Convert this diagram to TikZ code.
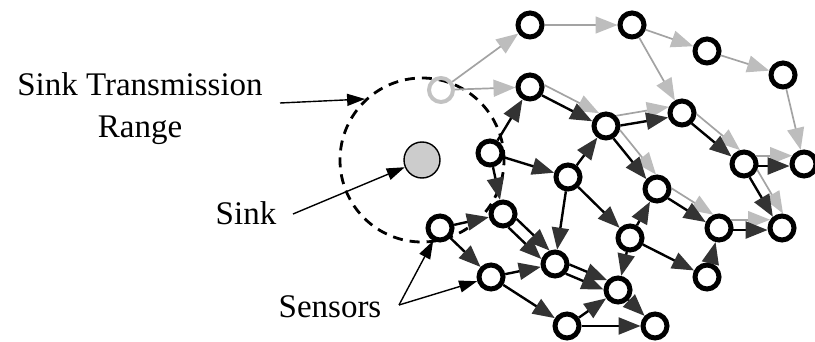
\documentclass[tikz,border=0pt]{standalone}
\usepackage{fontspec}
\setmainfont{Liberation Serif}
\usetikzlibrary{arrows.meta}
\definecolor{tipdark}{gray}{0.2}
\definecolor{linegrey}{gray}{0.64}
\definecolor{tiplight}{gray}{0.74}
\definecolor{ghostgrey}{gray}{0.76}
\definecolor{sinkfill}{gray}{0.8}
\begin{document}
\begin{tikzpicture}[x=1pt,y=-1pt,
  sensor/.style={circle,draw=black,fill=white,line width=5pt,minimum size=24pt,inner sep=0pt},
  ghost/.style={circle,draw=ghostgrey,line width=4pt,minimum size=24pt,inner sep=0pt},
  sinknode/.style={circle,draw=black,fill=sinkfill,line width=1.4pt,minimum size=36pt,inner sep=0pt},
  rangering/.style={circle,draw=black,line width=2.8pt,dash pattern=on 10pt off 7pt,minimum size=164pt,inner sep=0pt},
  tree/.style={draw=black,line width=2.4pt,-{Triangle[length=22pt,width=17pt,color=tipdark]}},
  alt/.style={draw=linegrey,line width=1.7pt,-{Triangle[length=22pt,width=17pt,color=tiplight]}},
  callout/.style={draw=black,line width=1.4pt,-{Triangle[length=18pt,width=12pt]}},
  labeltext/.style={font=\fontsize{33}{42}\selectfont,inner sep=0pt}
]
\useasboundingbox (0,0) rectangle (815,342);

% sink and its transmission range
\node[rangering] (range) at (422,160) {};
\node[sinknode] (sink) at (422,160) {};

% sensors
\node[ghost]  (A) at (441,90) {};
\node[sensor] (B) at (530,25) {};
\node[sensor] (C) at (632,25) {};
\node[sensor] (D) at (707,51) {};
\node[sensor] (E) at (783,75) {};
\node[sensor] (F) at (530,87) {};
\node[sensor] (G) at (606,126) {};
\node[sensor] (H) at (682,113) {};
\node[sensor] (I) at (744,164) {};
\node[sensor] (J) at (804,164) {};
\node[sensor] (K) at (490,153) {};
\node[sensor] (L) at (568,177) {};
\node[sensor] (M) at (657,189) {};
\node[sensor] (N) at (503,214) {};
\node[sensor] (O) at (440,228) {};
\node[sensor] (P) at (491,277) {};
\node[sensor] (Q) at (555,264) {};
\node[sensor] (S) at (630,238) {};
\node[sensor] (T) at (618,290) {};
\node[sensor] (U) at (567,326) {};
\node[sensor] (V) at (655,326) {};
\node[sensor] (X) at (719,228) {};
\node[sensor] (Y) at (707,277) {};
\node[sensor] (Z) at (782,228) {};

% second routing tree (light)
\draw[alt] (A) -- (B);
\draw[alt] (B) -- (C);
\draw[alt] (C) -- (D);
\draw[alt] (D) -- (E);
\draw[alt] (C) -- (H);
\draw[alt] (E) -- (J);
\draw[alt] (A) -- (F);
\draw[alt] (F.8) -- (G.118);
\draw[alt] (G.45) -- (H.155);
\draw[alt] (G.344) -- (M.94);
\draw[alt] (H.356) -- (I.106);
\draw[alt] (I.35) -- (J.145);
\draw[alt] (I.336) -- (Z.86);
\draw[alt] (X.35) -- (Z.145);
\draw[alt] (M.3) -- (X.113);

% first routing tree (dark)
\draw[tree] (F.325) -- (G.161);
\draw[tree] (G.2) -- (H.198);
\draw[tree] (G.301) -- (M.137);
\draw[tree] (H.313) -- (I.149);
\draw[tree] (I.352) -- (J.188);
\draw[tree] (I.293) -- (Z.129);
\draw[tree] (X.352) -- (Z.188);
\draw[tree] (M.320) -- (X.156);
\draw[tree] (K) -- (F);
\draw[tree] (K) -- (L);
\draw[tree] (L) -- (G);
\draw[tree] (K) -- (N);
\draw[tree] (O) -- (N);
\draw[tree] (O) -- (P);
\draw[tree] (N.340) -- (Q.112);
\draw[tree] (N.292) -- (Q.160);
\draw[tree] (L) -- (Q);
\draw[tree] (P) -- (Q);
\draw[tree] (P) -- (U);
\draw[tree] (Q.358) -- (T.138);
\draw[tree] (Q.318) -- (T.178);
\draw[tree] (L) -- (S);
\draw[tree] (S) -- (M);
\draw[tree] (S) -- (T);
\draw[tree] (S) -- (Y);
\draw[tree] (Y) -- (X);
\draw[tree] (U) -- (T);
\draw[tree] (U) -- (V);
\draw[tree] (T) -- (V);

% labels
\node[labeltext,align=center,anchor=north] (rangelabel) at (140,72) {Sink Transmission\\Range};
\node[labeltext,anchor=base] (sinklabel) at (246,225) {Sink};
\node[labeltext,anchor=base] (sensorlabel) at (330,317) {Sensors};

\coordinate (rangetail) at (280,103);
\coordinate (sinktail) at (293,214);
\coordinate (sensortail) at (399,305);
\draw[callout] (rangetail) -- (range.133);
\draw[callout] (sinktail) -- (sink);
\draw[callout] (sensortail) -- (O);
\draw[callout] (sensortail) -- (P);
\end{tikzpicture}
\end{document}
